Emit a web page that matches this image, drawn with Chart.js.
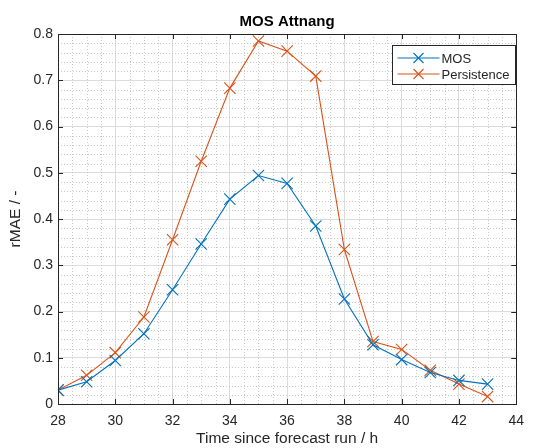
<!DOCTYPE html>
<html>
<head>
<meta charset="utf-8">
<script src="https://cdn.jsdelivr.net/npm/chart.js@4/dist/chart.umd.min.js"></script>
<style>
  html, body { margin: 0; padding: 0; background: #fff; }
  #wrap { width: 533px; height: 448px; }
</style>
</head>
<body>
<div id="wrap"><canvas id="c" width="533" height="448"></canvas></div>
<script>
// ---- data ----
const hours = [28, 29, 30, 31, 32, 33, 34, 35, 36, 37, 38, 39, 40, 41, 42, 43];
const mosValues = [0.030, 0.048, 0.094, 0.152, 0.247, 0.346, 0.443, 0.494, 0.477, 0.385, 0.227, 0.128, 0.096, 0.068, 0.051, 0.043];
const persistenceValues = [0.030, 0.062, 0.111, 0.188, 0.355, 0.525, 0.683, 0.785, 0.763, 0.709, 0.334, 0.135, 0.118, 0.073, 0.043, 0.016];
const seriesNames = ['MOS', 'Persistence'];
const xTicks = [28, 30, 32, 34, 36, 38, 40, 42, 44];
const yTicks = [0, 0.1, 0.2, 0.3, 0.4, 0.5, 0.6, 0.7, 0.8];
const chartTitle = 'MOS Attnang';
const xTitle = 'Time since forecast run / h';
const yTitle = 'rMAE / -';

const FONT = "'Liberation Sans', Arial, Helvetica, sans-serif";
const AXIS = '#262626';
const colors = ['#0072BD', '#D95319'];

function pts(vals) { return hours.map((h, i) => ({ x: h, y: vals[i] })); }

const frame = {
  id: 'frame',
  beforeDatasetsDraw(chart) {
    const { ctx, chartArea: a, scales: { x, y } } = chart;
    ctx.save();
    ctx.strokeStyle = '#c8c8c8';
    ctx.lineWidth = 1;
    ctx.setLineDash([1, 2]);
    for (let v = 28; v <= 44; v += 0.5) {
      if (Math.abs(v / 2 - Math.round(v / 2)) < 1e-6) continue;
      const px = Math.round(x.getPixelForValue(v)) + 0.5;
      ctx.beginPath(); ctx.moveTo(px, a.top); ctx.lineTo(px, a.bottom); ctx.stroke();
    }
    for (let k = 0; k <= 40; k++) {
      if (k % 5 === 0) continue;
      const py = Math.round(y.getPixelForValue(k * 0.02)) + 0.5;
      ctx.beginPath(); ctx.moveTo(a.left, py); ctx.lineTo(a.right, py); ctx.stroke();
    }
    ctx.restore();
  },
  afterDatasetsDraw(chart) {
    const { ctx, chartArea: a, scales: { x, y } } = chart;
    ctx.save();
    ctx.strokeStyle = AXIS;
    ctx.lineWidth = 1;
    ctx.setLineDash([]);
    ctx.strokeRect(Math.round(a.left) + 0.5, Math.round(a.top) + 0.5, Math.round(a.right - a.left), Math.round(a.bottom - a.top));
    const L = 5;
    xTicks.forEach(v => {
      const px = Math.round(x.getPixelForValue(v)) + 0.5;
      ctx.beginPath();
      ctx.moveTo(px, a.bottom); ctx.lineTo(px, a.bottom - L);
      ctx.moveTo(px, a.top); ctx.lineTo(px, a.top + L);
      ctx.stroke();
    });
    yTicks.forEach(v => {
      const py = Math.round(y.getPixelForValue(v)) + 0.5;
      ctx.beginPath();
      ctx.moveTo(a.left, py); ctx.lineTo(a.left + L, py);
      ctx.moveTo(a.right, py); ctx.lineTo(a.right - L, py);
      ctx.stroke();
    });
    // legend
    const bx = 392.5, by = 45.5, bw = 123, bh = 39;
    ctx.fillStyle = '#fff';
    ctx.fillRect(bx, by, bw, bh);
    ctx.strokeStyle = AXIS;
    ctx.strokeRect(bx, by, bw, bh);
    chart.data.datasets.forEach((ds, i) => {
      const ly = by + 12.5 + i * 16;
      ctx.strokeStyle = ds.borderColor;
      ctx.lineWidth = 1.1;
      ctx.beginPath(); ctx.moveTo(bx + 5, ly); ctx.lineTo(bx + 47, ly); ctx.stroke();
      const cx = bx + 26, r = 5;
      ctx.beginPath();
      ctx.moveTo(cx - r, ly - r); ctx.lineTo(cx + r, ly + r);
      ctx.moveTo(cx - r, ly + r); ctx.lineTo(cx + r, ly - r);
      ctx.stroke();
      ctx.fillStyle = AXIS;
      ctx.font = '13px ' + FONT;
      ctx.textBaseline = 'middle';
      ctx.textAlign = 'left';
      ctx.fillText(ds.label, bx + 49, ly + 1);
    });
    ctx.restore();
  }
};

new Chart(document.getElementById('c'), {
  type: 'line',
  data: {
    datasets: [
      { label: seriesNames[0], data: pts(mosValues), borderColor: colors[0], backgroundColor: colors[0] },
      { label: seriesNames[1], data: pts(persistenceValues), borderColor: colors[1], backgroundColor: colors[1] }
    ].map(d => Object.assign(d, {
      borderWidth: 1.1, tension: 0, fill: false,
      pointStyle: 'crossRot', pointRadius: 8, pointBorderWidth: 1.1,
      pointHoverRadius: 8
    }))
  },
  options: {
    responsive: false,
    animation: false,
    devicePixelRatio: 1,
    layout: { padding: { top: 0, right: 6, bottom: 0, left: 0 } },
    plugins: {
      legend: { display: false },
      tooltip: { enabled: false },
      title: {
        display: true, text: chartTitle, color: '#000', fullSize: false,
        font: { family: FONT, size: 15, weight: 'bold', lineHeight: 1.2 },
        padding: { top: 13, bottom: 3 }
      }
    },
    scales: {
      x: {
        type: 'linear', min: 28, max: 44,
        afterBuildTicks: s => { s.ticks = xTicks.map(v => ({ value: v })); },
        afterFit: s => { s.height = 44; },
        grid: { color: '#dcdcdc', lineWidth: 1, drawTicks: false },
        border: { display: false },
        ticks: { color: AXIS, font: { family: FONT, size: 14 }, padding: 9, maxRotation: 0 },
        title: { display: true, text: xTitle, color: AXIS, font: { family: FONT, size: 15.5 }, padding: { top: 0, bottom: 0 } }
      },
      y: {
        type: 'linear', min: 0, max: 0.8,
        afterBuildTicks: s => { s.ticks = yTicks.map(v => ({ value: v })); },
        afterFit: s => { s.width = 58; },
        grid: { color: '#dcdcdc', lineWidth: 1, drawTicks: false },
        border: { display: false },
        ticks: { color: AXIS, font: { family: FONT, size: 14 }, padding: 5, callback: v => String(Math.round(v * 10) / 10) },
        title: { display: true, text: yTitle, color: AXIS, font: { family: FONT, size: 15.5 }, padding: { top: 6, bottom: 0 } }
      }
    }
  },
  plugins: [frame]
});
</script>
</body>
</html>
